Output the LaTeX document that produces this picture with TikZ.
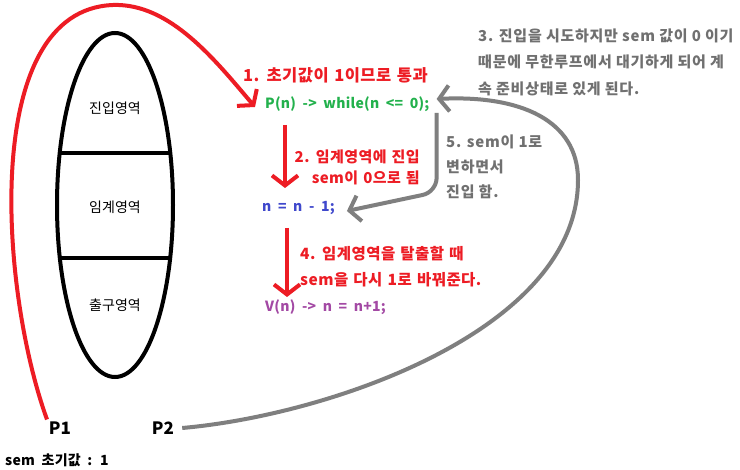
\documentclass[tikz,border=0pt]{standalone}
\usepackage{fontspec}
\setmainfont{Noto Sans CJK KR}
\newfontfamily\redfont[LetterSpace=3,WordSpace=1.3]{Noto Sans CJK KR}
\newfontfamily\grayfont[LetterSpace=5]{Noto Sans CJK KR}
\newfontfamily\codefont[LetterSpace=2,WordSpace=1.9]{Noto Sans CJK KR}
\usetikzlibrary{arrows.meta,calc}
\definecolor{pred}{RGB}{237,28,36}
\definecolor{pgreen}{RGB}{34,177,76}
\definecolor{pblue}{RGB}{63,72,204}
\definecolor{ppurple}{RGB}{163,73,164}
\definecolor{pgray}{RGB}{127,127,127}
\definecolor{tgray}{RGB}{112,112,112}
\tikzset{
  lbl/.style={inner sep=0pt},
  codetxt/.style={inner sep=0pt, anchor=west, font=\codefont\fontsize{14}{18}\selectfont\bfseries},
  zone/.style={inner sep=0pt, font=\fontsize{14}{18}\selectfont},
  pname/.style={inner sep=0pt, font=\fontsize{17}{20}\selectfont\bfseries},
  redarr/.style={draw=pred, line width=4pt, -{Straight Barb[length=10pt,width=26pt]}},
  grayarr/.style={draw=pgray, line width=4pt, -{Straight Barb[length=10pt,width=26pt]}},
}
\begin{document}
\begin{tikzpicture}[x=1pt,y=-1pt]
\useasboundingbox (0,0) rectangle (740,470);
\fill[white] (0,0) rectangle (740,470);
% critical-section ellipse
\begin{scope}
  \clip (115,205) ellipse [x radius=58, y radius=172];
  \draw[line width=4pt] (40,153) -- (190,153);
  \draw[line width=4pt] (40,258) -- (190,258);
\end{scope}
\draw[line width=4pt] (115,205) ellipse [x radius=58, y radius=172];
\node[zone] (z1) at (115,108) {진입영역};
\node[zone] (z2) at (115,207) {임계영역};
\node[zone] (z3) at (115,305) {출구영역};
% code lines
\node[codetxt, text=pgreen] (pn) at (265,104) {P(n) -> while(n <= 0);};
\node[codetxt, text=pblue] (dec) at (262,208) {n = n - 1;};
\node[codetxt, text=ppurple] (vn) at (265,307) {V(n) -> n = n+1;};
% red labels
\node[lbl, text=pred, anchor=west, font=\redfont\fontsize{16.5}{21}\selectfont\bfseries] (t1) at (243,75) {1. 초기값이 1이므로 통과};
\node[lbl, text=pred, anchor=east, align=right, font=\redfont\fontsize{15}{21}\selectfont\bfseries] (t2) at (420,167) {2. 임계영역에 진입\\sem이 0으로 됨};
\node[lbl, text=pred, anchor=west, align=left, font=\redfont\fontsize{15.5}{26}\selectfont\bfseries] (t4) at (300,267) {4. 임계영역을 탈출할 때\\sem을 다시 1로 바꿔준다.};
% gray labels
\node[lbl, text=tgray, anchor=west, align=left, font=\grayfont\fontsize{15}{26.5}\selectfont\bfseries] (t3) at (478,62) {3. 진입을 시도하지만 sem 값이 0 이기\\때문에 무한루프에서 대기하게 되어 계\\속 준비상태로 있게 된다.};
\node[lbl, text=tgray, anchor=west, align=left, font=\grayfont\fontsize{15}{25}\selectfont\bfseries] (t5) at (446,167) {5. sem이 1로\\변하면서\\진입 함.};
% processes
\node[pname] (p1) at (60,428) {P1};
\node[pname] (p2) at (163,428) {P2};
\node[inner sep=0pt, anchor=west, font=\codefont\fontsize{14}{18}\selectfont\bfseries] (sem) at (5,460) {sem 초기값 : 1};
% connectors
\draw[redarr] ([xshift=-13pt,yshift=2pt]p1.north) .. controls (0,290) and (-20,10) .. (113,5)
   .. controls (170,3) and (215,60) .. ([xshift=-10pt,yshift=-3pt]pn.west);
\draw[grayarr] ([xshift=8pt]p2.east) .. controls (330,415) and (578,330) .. (578,180)
   .. controls (578,120) and (520,95) .. ([xshift=7pt,yshift=5pt]pn.east);
\draw[grayarr, rounded corners=14pt] ($(pn.east)+(7,9)$) -- ($(pn.east)+(7,88)$) -- ([xshift=12pt,yshift=-3pt]dec.east);
\draw[redarr] ($(pn.west)+(20,21)$) -- ($(dec.west)+(23,-20)$);
\draw[redarr] ($(dec.west)+(25,20)$) -- ($(vn.west)+(22,-10)$);
\end{tikzpicture}
\end{document}
